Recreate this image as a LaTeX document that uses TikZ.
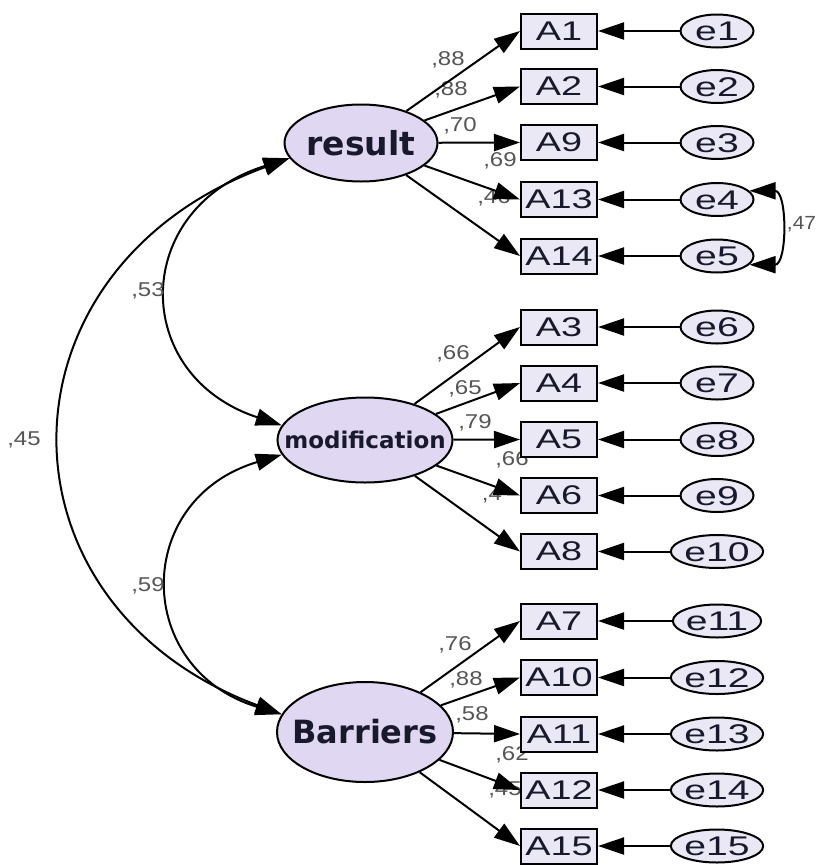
\documentclass[tikz,border=0pt]{standalone}
\usepackage{fontspec}
\setmainfont{Liberation Sans}
\newfontfamily\latfont{DejaVu Sans}
\usepackage{graphicx}
\usetikzlibrary{shapes.geometric}
\usetikzlibrary{arrows.meta}
\definecolor{latfill}{RGB}{224,215,242}
\definecolor{obsfill}{RGB}{234,232,244}
\definecolor{wtgray}{RGB}{85,85,85}
\definecolor{inkblue}{RGB}{25,25,45}
\newcommand{\widetext}[2][1.4]{\scalebox{#1}[1]{#2}}
\tikzset{
 latent/.style={ellipse, draw, fill=latfill, inner ysep=0pt, text=inkblue, font=\latfont\bfseries},
 obs/.style={rectangle, draw, fill=obsfill, minimum width=76pt, minimum height=35pt, inner sep=0pt,
   text=inkblue, font=\fontsize{27pt}{27pt}\selectfont},
 err/.style={ellipse, draw, fill=obsfill, minimum height=33pt, inner sep=0pt, text height=19pt, text depth=0pt,
   text=inkblue, font=\fontsize{27pt}{27pt}\selectfont},
 wt/.style={inner sep=0pt, text=wtgray, font=\fontsize{20pt}{20pt}\selectfont}
}

\begin{document}
\begin{tikzpicture}[x=1pt,y=-1pt,line width=2pt,>={Triangle[length=26pt,width=17pt]}]
\fill[white] (0,0) rectangle (817,865);
\useasboundingbox (0,0) rectangle (817,865);

% latent factors
\node[latent, inner xsep=-2pt, minimum width=153pt, minimum height=77pt, font=\latfont\bfseries\fontsize{33pt}{33pt}\selectfont] (result) at (361,143) {result};
\node[latent, inner xsep=-20pt, minimum width=175pt, minimum height=85pt, font=\latfont\bfseries\fontsize{23pt}{23pt}\selectfont] (modification) at (365,440) {modification};
\node[latent, inner xsep=-11pt, minimum width=176pt, minimum height=100pt, font=\latfont\bfseries\fontsize{32pt}{32pt}\selectfont] (barriers) at (365,732) {Barriers};

% loading weights
\foreach \nm/\x/\y/\txt in {w1/448/60/{,88}, w2/451/90/{,88}, w3/460/126/{,70}, w4/500/161/{,69}, w5/494/198/{,46},
  w6/453/354/{,66}, w7/465/389/{,65}, w8/475/423/{,79}, w9/512/460/{,66}, w10/492/495/{,4},
  w11/455/645/{,76}, w12/466/680/{,88}, w13/472/715/{,58}, w14/512/755/{,62}, w15/505/790/{,45}}
 \node[wt] (\nm) at (\x,\y) {\widetext[1.2]{\txt}};

% indicators and errors
\foreach \nm/\y/\ee/\w in {A1/31/e1/73, A2/86.5/e2/73, A9/142.5/e3/73, A13/199.5/e4/73, A14/256/e5/73,
  A3/327/e6/73, A4/383/e7/73, A5/439.5/e8/73, A6/495.5/e9/73, A8/551.5/e10/85,
  A7/621/e11/85, A10/677.5/e12/85, A11/734/e13/85, A12/790/e14/85, A15/846/e15/85} {
 \node[obs] (\nm) at (559,\y) {\widetext{\nm}};
 \node[err, minimum width=\w pt] (\ee) at (717,\y) {\widetext[1.45]{\ee}};
 \draw[->] (\ee) -- (\nm);
}

\foreach \nm in {A1,A2,A9,A13,A14}
 \draw[->] (result) -- (\nm.west);
\foreach \nm in {A3,A4,A5,A6,A8}
 \draw[->] (modification) -- (\nm.west);
\foreach \nm in {A7,A10,A11,A12,A15}
 \draw[->] (barriers) -- (\nm.west);

% covariances
\draw[<->] (result.192) .. controls +(-159,50) and +(-152,-50) .. (modification.170);
\draw[<->] (modification.190) .. controls +(-150,45) and +(-148,-45) .. (barriers.168);
\draw[<->] (result.192) .. controls +(-300,110) and +(-295,-110) .. (barriers.168);
\draw[<->] (e4.15) .. controls +(38,0) and +(38,0) .. (e5.-15);

\node[wt] (c1) at (148,291) {\widetext[1.2]{,53}};
\node[wt] (c2) at (24,440) {\widetext[1.2]{,45}};
\node[wt] (c3) at (148,586) {\widetext[1.2]{,59}};
\node[wt, anchor=east, font=\fontsize{19pt}{19pt}\selectfont] (c4) at (817,224) {\widetext[1.1]{,47}};
\end{tikzpicture}
\end{document}
